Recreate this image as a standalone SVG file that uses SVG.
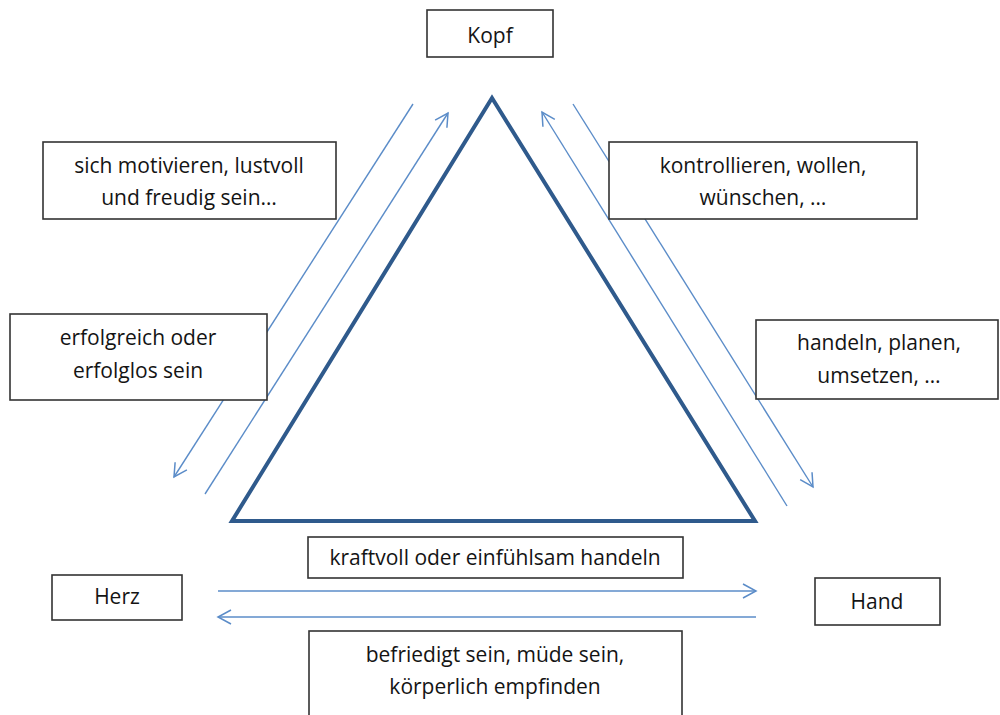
<svg xmlns="http://www.w3.org/2000/svg" width="1000" height="715" viewBox="0 0 1000 715">
<defs>
<marker id="arr" markerUnits="userSpaceOnUse" markerWidth="20" markerHeight="20" refX="0" refY="0" orient="auto" overflow="visible">
<path d="M -13 -7 L 0 0 L -13 7" fill="none" stroke="#5b8cc8" stroke-width="1.5"/>
</marker>
<style>
.box{fill:#fff;stroke:#333;stroke-width:1.6}
.t{font-family:"Open Sans",Lato,sans-serif;font-size:21px;fill:#141414;text-anchor:middle}
.c{stroke:#5b8cc8;stroke-width:1.4;fill:none;marker-end:url(#arr)}
</style>
</defs>
<rect width="1000" height="715" fill="#fff"/>
<g id="triangle"><polygon points="492,98 232,521 755,521" fill="none" stroke="#2f5a8c" stroke-width="4" stroke-linejoin="miter"/></g>
<g id="connectors">
<line class="c" x1="413" y1="104" x2="174" y2="477"/>
<line class="c" x1="205" y1="494" x2="448" y2="113"/>
<line class="c" x1="787" y1="506" x2="542" y2="112"/>
<line class="c" x1="573" y1="104" x2="813" y2="487"/>
<line class="c" x1="218" y1="591" x2="756" y2="591"/>
<line class="c" x1="756" y1="617" x2="218" y2="617"/>
</g>
<g id="kopf"><rect class="box" x="427" y="10" width="126" height="47"/><text class="t" x="490" y="43">Kopf</text></g>
<g id="motivieren"><rect class="box" x="43" y="142" width="293" height="77"/><text class="t" x="189" y="173">sich motivieren, lustvoll</text><text class="t" x="189" y="205">und freudig sein…</text></g>
<g id="erfolgreich"><rect class="box" x="10" y="314" width="257" height="86"/><text class="t" x="138" y="345">erfolgreich oder</text><text class="t" x="138" y="378">erfolglos sein</text></g>
<g id="kontrollieren"><rect class="box" x="609" y="142" width="308" height="77"/><text class="t" x="763" y="173">kontrollieren, wollen,</text><text class="t" x="763" y="205">wünschen, …</text></g>
<g id="handeln"><rect class="box" x="756" y="320" width="242" height="79"/><text class="t" x="879" y="350">handeln, planen,</text><text class="t" x="879" y="383">umsetzen, …</text></g>
<g id="kraftvoll"><rect class="box" x="308" y="537" width="375" height="41"/><text class="t" x="495" y="565">kraftvoll oder einfühlsam handeln</text></g>
<g id="herz"><rect class="box" x="52" y="575" width="130" height="45"/><text class="t" x="117" y="604">Herz</text></g>
<g id="hand"><rect class="box" x="815" y="578" width="125" height="47"/><text class="t" x="877" y="609">Hand</text></g>
<g id="befriedigt"><rect class="box" x="309" y="631" width="373" height="100"/><text class="t" x="495" y="662">befriedigt sein, müde sein,</text><text class="t" x="495" y="694">körperlich empfinden</text></g>
</svg>
